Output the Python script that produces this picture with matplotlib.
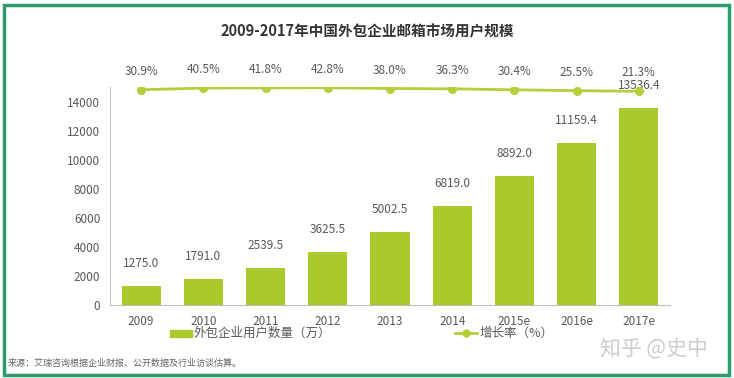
import matplotlib.pyplot as plt
from matplotlib.patches import Rectangle
from matplotlib.lines import Line2D
import numpy as np

plt.rcParams['font.family'] = ['Noto Sans CJK SC', 'DejaVu Sans']

years = ['2009', '2010', '2011', '2012', '2013', '2014', '2015e', '2016e', '2017e']
users = [1275.0, 1791.0, 2539.5, 3625.5, 5002.5, 6819.0, 8892.0, 11159.4, 13536.4]
growth = [30.9, 40.5, 41.8, 42.8, 38.0, 36.3, 30.4, 25.5, 21.3]

title = '2009-2017年中国外包企业邮箱市场用户规模'
bar_name = '外包企业用户数量（万）'
line_name = '增长率（%）'
source = '来源：艾瑞咨询根据企业财报、公开数据及行业访谈估算。'
mark = '知乎 @史中'

green = '#a9c92c'
lgreen = '#b3cf3a'
grey = '#595959'

fig = plt.figure(figsize=(7.34, 3.78), dpi=100)
W, H = 734, 378

# plot area in pixels: x 110..670, y 87..305
ax = fig.add_axes([110 / W, 1 - 305 / H, 560 / W, 218 / H])
x = np.arange(len(years))
ax.bar(x, users, width=0.63, color=green, zorder=2)
for xi, v in zip(x, users):
    ax.text(xi, v + 1100, '%.1f' % v, ha='center', va='bottom', fontsize=8.5, color=grey)
ax.set_xlim(-0.5, len(years) - 0.5)
ax.set_ylim(0, 15000)
ax.set_yticks(range(0, 15000, 2000))
ax.set_xticks(x)
ax.set_xticklabels(years)
ax.tick_params(length=0, labelsize=8.5, colors=grey, pad=7)
for s in ['top', 'right']:
    ax.spines[s].set_visible(False)
for s in ['left', 'bottom']:
    ax.spines[s].set_color('#bfbfbf')

ax2 = ax.twinx()
ax2.plot(x, growth, '-o', color=lgreen, lw=2, ms=5.5, zorder=3)
for xi, g in zip(x, growth):
    ax2.text(xi, g + 70, '%.1f%%' % g, ha='center', va='bottom', fontsize=8.5, color=grey)
ax2.set_ylim(-1235, 47)
ax2.axis('off')

# legend
ly = 1 - 333 / H
fig.add_artist(Rectangle((170 / W, 1 - 337 / H), 22 / W, 7 / H, color=green,
                         transform=fig.transFigure))
fig.text(194 / W, ly, bar_name, fontsize=9, color=grey, va='center')
fig.add_artist(Line2D([455 / W, 466 / W, 477 / W], [ly] * 3, color=lgreen, lw=2,
                      marker='o', markevery=[1], ms=5, transform=fig.transFigure))
fig.text(480 / W, ly, line_name, fontsize=9, color=grey, va='center')

fig.text(367 / W, 1 - 31 / H, title, ha='center', va='center', fontsize=10.5,
         fontweight='bold', color='#333333')
fig.text(8 / W, 1 - 363 / H, source, fontsize=6.5, color='#666666', va='center')
fig.text(600 / W, 1 - 348 / H, mark, fontsize=15, color='#cccccc', va='center')

# outer green frame
fig.add_artist(Rectangle((4 / W, 1 - 375 / H), 725 / W, 370 / H, fill=False,
                         edgecolor='#2e9b6b', lw=2.5, transform=fig.transFigure))

fig.savefig('out.png', dpi=100)
